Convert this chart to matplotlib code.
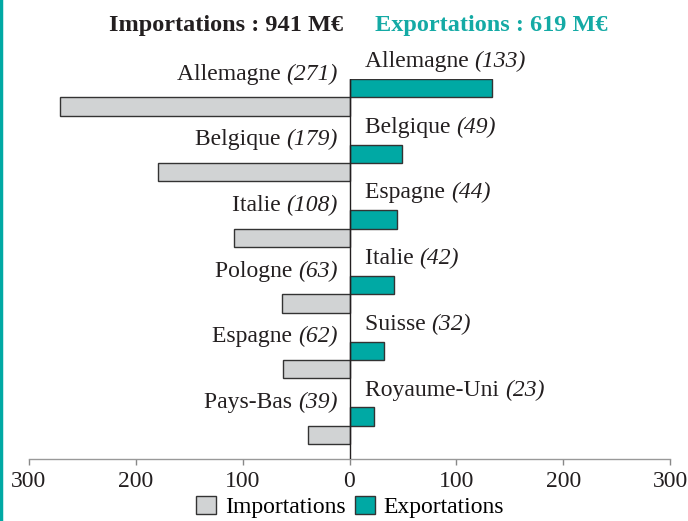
import matplotlib
matplotlib.use('Agg')
import matplotlib.pyplot as plt
from matplotlib.patches import Patch
from matplotlib.lines import Line2D
import numpy as np

# Data (M€)
import_countries = ['Allemagne', 'Belgique', 'Italie', 'Pologne', 'Espagne', 'Pays-Bas']
import_values = [271, 179, 108, 63, 62, 39]
export_countries = ['Allemagne', 'Belgique', 'Espagne', 'Italie', 'Suisse', 'Royaume-Uni']
export_values = [133, 49, 44, 42, 32, 23]
import_total = 941
export_total = 619
tick_values = [-300, -200, -100, 0, 100, 200, 300]
tick_labels = ['300', '200', '100', '0', '100', '200', '300']

GREY = '#d1d3d4'
TEAL = '#00a9a4'
EDGE = '#333333'
TXT = '#231f20'
FS = 17

plt.rcParams['font.family'] = ['Liberation Serif', 'DejaVu Serif']

fig = plt.figure(figsize=(6.88, 5.21), dpi=100)
ax = fig.add_axes([29 / 688, 1 - 459 / 521, 641 / 688, 380 / 521])

n = len(import_values)
pos = np.arange(n)[::-1].astype(float)  # top row = Allemagne
h = 0.28

# bars: imports to the left, exports to the right (one bar height higher)
ax.barh(pos, [-v for v in import_values], height=h, color=GREY,
        edgecolor=EDGE, linewidth=1, zorder=2)
ax.barh(pos + h, export_values, height=h, color=TEAL,
        edgecolor=EDGE, linewidth=1, zorder=2)

# labels: country in roman, value in italic
for p, c, v in zip(pos, import_countries, import_values):
    tv = ax.text(-11, p + 0.41, f'({v})', ha='right', va='baseline',
                 fontsize=FS, color=TXT, style='italic')
    ax.annotate(c + ' ', xy=(0, 0), xycoords=tv, ha='right', va='bottom',
                fontsize=FS, color=TXT)
for p, c, v in zip(pos, export_countries, export_values):
    tn = ax.text(14.5, p + h + 0.32, c + ' ', ha='left', va='baseline',
                 fontsize=FS, color=TXT)
    ax.annotate(f'({v})', xy=(1, 0), xycoords=tn, ha='left', va='bottom',
                fontsize=FS, color=TXT, style='italic')

ax.axvline(0, color=TXT, linewidth=1, zorder=3)

ax.set_xlim(-300, 300)
ax.set_ylim(-0.366, 5.419)
ax.set_xticks(tick_values)
ax.set_xticklabels(tick_labels, fontsize=FS, color=TXT)
ax.set_yticks([])
ax.tick_params(axis='x', direction='out', length=4.5, width=1, color='#888888', pad=4)
for s in ['top', 'right', 'left']:
    ax.spines[s].set_visible(False)
ax.spines['bottom'].set_color('#999999')
ax.spines['bottom'].set_linewidth(1)

# headline totals
fig.text(343 / 688, 1 - 25 / 521, f'Importations : {import_total} M€', ha='right',
         va='center', fontsize=17.5, fontweight='bold', color=TXT)
fig.text(375 / 688, 1 - 25 / 521, f'Exportations : {export_total} M€', ha='left',
         va='center', fontsize=17.5, fontweight='bold', color='#14aaa5')

# legend
handles = [Patch(facecolor=GREY, edgecolor=EDGE, label='Importations'),
           Patch(facecolor=TEAL, edgecolor=EDGE, label='Exportations')]
fig.legend(handles=handles, loc='center', bbox_to_anchor=(350 / 688, 1 - 507 / 521),
           ncol=2, frameon=False, fontsize=FS, handlelength=0.85, handleheight=0.8,
           handletextpad=0.35, columnspacing=0.4, borderpad=0)

# teal border on the left edge
fig.add_artist(Line2D([0.002, 0.002], [0, 1], color=TEAL, linewidth=2.5,
                      transform=fig.transFigure))

fig.savefig('out.png', dpi=100)
